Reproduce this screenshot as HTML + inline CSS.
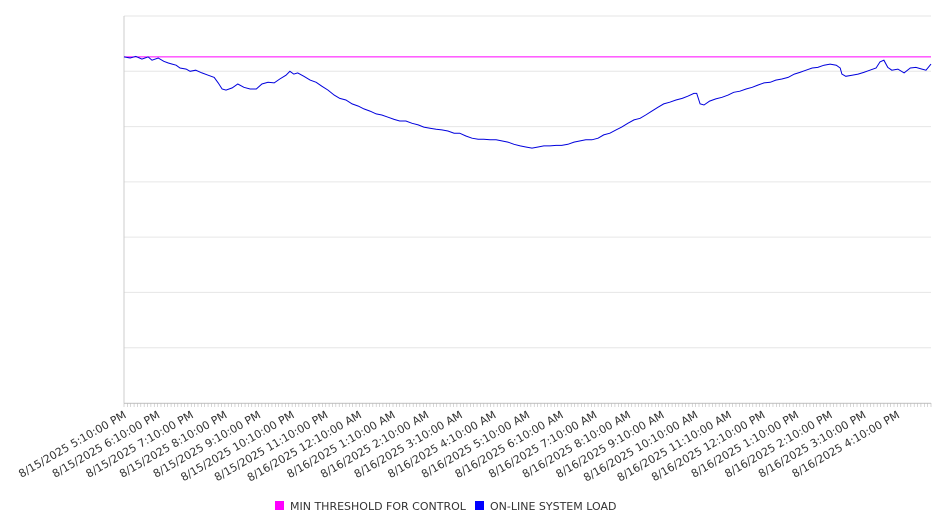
<!DOCTYPE html>
<html><head><meta charset="utf-8"><style>
body{margin:0;background:#fff;font-family:"Liberation Sans","DejaVu Sans",sans-serif}
svg text{font-family:"DejaVu Sans","Liberation Sans",sans-serif}
</style></head><body>
<svg id="chart" width="946" height="526" viewBox="0 0 946 526" xmlns="http://www.w3.org/2000/svg">
<g id="grid"></g>
<g id="xaxis"></g>
<g id="series"></g>
<g>
<rect x="275" y="501" width="9" height="9" fill="#ff00ff"/>
<text x="290" y="510" font-size="11" fill="#333">MIN THRESHOLD FOR CONTROL</text>
<rect x="475" y="501" width="9" height="9" fill="#0000ff"/>
<text x="490" y="510" font-size="11" fill="#333">ON-LINE SYSTEM LOAD</text>
</g>
</svg>
<script>
const tickLabels=["8/15/2025 5:10:00 PM","8/15/2025 6:10:00 PM","8/15/2025 7:10:00 PM","8/15/2025 8:10:00 PM","8/15/2025 9:10:00 PM","8/15/2025 10:10:00 PM","8/15/2025 11:10:00 PM","8/16/2025 12:10:00 AM","8/16/2025 1:10:00 AM","8/16/2025 2:10:00 AM","8/16/2025 3:10:00 AM","8/16/2025 4:10:00 AM","8/16/2025 5:10:00 AM","8/16/2025 6:10:00 AM","8/16/2025 7:10:00 AM","8/16/2025 8:10:00 AM","8/16/2025 9:10:00 AM","8/16/2025 10:10:00 AM","8/16/2025 11:10:00 AM","8/16/2025 12:10:00 PM","8/16/2025 1:10:00 PM","8/16/2025 2:10:00 PM","8/16/2025 3:10:00 PM","8/16/2025 4:10:00 PM"];
const minutes=[0,11,21,32,43,50,61,71,79,86,93,100,111,118,128,139,150,161,168,175,182,193,203,214,225,236,246,257,268,278,289,296,303,310,321,332,343,353,364,375,385,396,407,418,428,439,450,460,471,482,492,503,514,525,535,546,557,567,578,589,599,610,621,632,642,653,664,674,685,696,707,717,728,739,749,760,771,781,792,803,814,824,835,846,856,867,878,888,899,910,921,931,942,953,963,974,985,996,1006,1017,1022,1028,1035,1045,1056,1067,1078,1088,1099,1110,1121,1131,1142,1153,1163,1174,1185,1196,1206,1217,1228,1238,1249,1260,1271,1278,1281,1288,1299,1310,1320,1331,1342,1349,1356,1363,1370,1381,1392,1403,1413,1424,1431,1440];
const loadValues=[626,624,627,622,626,620,624,618,615,613,611,606,604,600,602,597,593,589,579,568,566,570,577,571,568,568,577,580,579,586,593,600,595,597,591,584,580,573,566,557,551,548,541,537,532,528,523,521,517,513,510,510,506,503,499,497,495,494,492,488,488,483,479,477,477,476,476,474,472,468,465,463,461,463,465,465,466,466,468,472,474,476,476,479,485,488,494,499,506,512,515,521,528,535,541,544,548,551,555,560,560,541,539,546,550,553,557,562,564,568,571,575,579,580,584,586,589,595,598,602,606,607,611,613,611,606,595,591,593,595,598,602,606,617,620,607,602,604,597,606,607,604,602,613];
const thresholdValue=[626];
const yTicks=[0,100,200,300,400,500,600,700];

const NS="http://www.w3.org/2000/svg";
const X0=124,X1=931,Y0=403,Y1=16,TMAX=1440,VMAX=700;
const xs=m=>X0+(m/TMAX)*(X1-X0);
const ys=v=>Y0-(v/VMAX)*(Y0-Y1);
function mk(tag,attrs,parent){const e=document.createElementNS(NS,tag);for(const k in attrs)e.setAttribute(k,attrs[k]);parent.appendChild(e);return e;}
const grid=document.getElementById('grid'),xa=document.getElementById('xaxis'),ser=document.getElementById('series');
yTicks.forEach(v=>{
  const l=mk('line',{x1:X0,x2:X1,y1:ys(v),y2:ys(v),stroke:'#e6e6e6','stroke-width':1},grid);
  
  
});
const ax=mk('line',{x1:X0,x2:X0,y1:Y1,y2:Y0,stroke:'#ccc','stroke-width':1},xa);


const bx=mk('line',{x1:X0,x2:X1,y1:Y0+0.5,y2:Y0+0.5,stroke:'#ccc','stroke-width':1},xa);


for(let m=0;m<=TMAX;m+=6){
  const t=mk('line',{x1:xs(m),x2:xs(m),y1:Y0,y2:Y0+4,stroke:'#bbb','stroke-width':0.6},xa);
  
  
}
tickLabels.forEach((s,i)=>{
  const x=xs(i*60);
  const t=mk('text',{x:x+3,y:Y0+14,'font-size':11,fill:'#333','text-anchor':'end',transform:`rotate(-30 ${x+3} ${Y0+14})`},xa);
  t.textContent=s;
  
  
});
const th=mk('line',{x1:X0,x2:X1,y1:ys(thresholdValue[0]),y2:ys(thresholdValue[0]),stroke:'#ff00ff','stroke-width':1},ser);


const d=minutes.map((m,i)=>(i?'L':'M')+xs(m).toFixed(1)+' '+ys(loadValues[i]).toFixed(1)).join(' ');
const p=mk('path',{d:d,fill:'none',stroke:'#0000dd','stroke-width':1},ser);


</script>
</body></html>
